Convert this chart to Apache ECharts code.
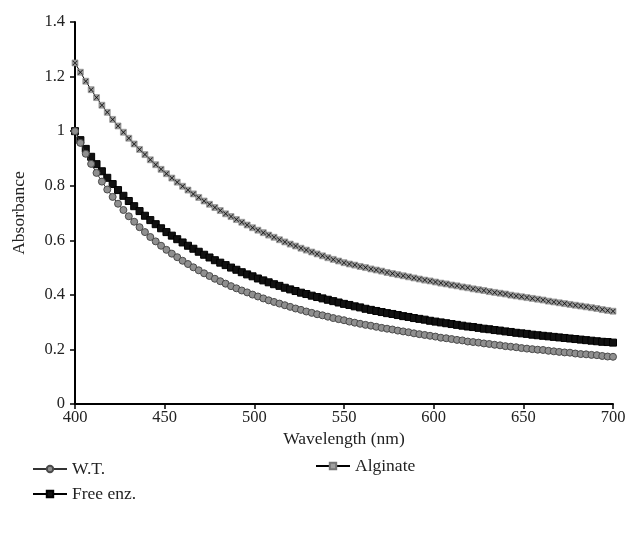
<!DOCTYPE html>
<html>
<head>
<meta charset="utf-8">
<script src="https://cdn.jsdelivr.net/npm/echarts@6/dist/echarts.min.js"></script>
<style>html,body{margin:0;padding:0;background:#fff}#c{width:630px;height:535px}</style>
</head>
<body>
<div id="c"></div>
<script>
const wavelengthStart = 400;
const wavelengthStep = 3;
const xTicks = [400, 450, 500, 550, 600, 650, 700];
const yTicks = [0, 0.2, 0.4, 0.6, 0.8, 1, 1.2, 1.4];
const seriesNames = ['W.T.', 'Free enz.', 'Alginate'];

const wt = [1.000,0.957,0.917,0.880,0.847,0.815,0.786,0.759,0.734,0.711,0.688,0.668,0.648,0.630,0.612,0.596,0.580,0.565,0.551,0.538,0.525,0.513,0.501,0.490,0.479,0.469,0.459,0.450,0.441,0.432,0.424,0.416,0.409,0.401,0.394,0.387,0.380,0.374,0.368,0.362,0.356,0.350,0.345,0.339,0.334,0.329,0.325,0.320,0.315,0.311,0.307,0.302,0.298,0.294,0.290,0.287,0.283,0.279,0.276,0.273,0.269,0.266,0.263,0.259,0.256,0.253,0.250,0.247,0.243,0.241,0.238,0.235,0.233,0.229,0.227,0.225,0.222,0.220,0.217,0.215,0.212,0.210,0.208,0.205,0.203,0.201,0.199,0.198,0.195,0.193,0.191,0.189,0.188,0.185,0.183,0.182,0.180,0.179,0.176,0.174,0.173];

const freeEnz = [1.000,0.967,0.935,0.906,0.879,0.853,0.829,0.806,0.784,0.763,0.744,0.725,0.707,0.690,0.674,0.659,0.644,0.630,0.617,0.604,0.592,0.580,0.569,0.558,0.547,0.537,0.527,0.518,0.509,0.500,0.492,0.483,0.475,0.468,0.460,0.453,0.446,0.439,0.433,0.426,0.420,0.414,0.408,0.403,0.397,0.392,0.387,0.382,0.377,0.372,0.367,0.363,0.358,0.354,0.349,0.345,0.341,0.337,0.333,0.330,0.326,0.322,0.319,0.315,0.312,0.309,0.305,0.302,0.299,0.296,0.293,0.290,0.287,0.284,0.282,0.279,0.276,0.274,0.271,0.269,0.266,0.264,0.261,0.259,0.257,0.254,0.252,0.250,0.248,0.246,0.244,0.242,0.240,0.238,0.236,0.234,0.232,0.230,0.228,0.227,0.225];

const alginate = [1.250,1.216,1.183,1.152,1.123,1.095,1.069,1.043,1.019,0.996,0.974,0.953,0.933,0.914,0.895,0.877,0.860,0.844,0.828,0.813,0.798,0.784,0.770,0.757,0.744,0.732,0.720,0.709,0.697,0.687,0.676,0.666,0.656,0.646,0.637,0.628,0.619,0.611,0.602,0.594,0.586,0.579,0.571,0.564,0.557,0.550,0.543,0.536,0.530,0.524,0.518,0.513,0.509,0.504,0.500,0.495,0.491,0.487,0.482,0.478,0.474,0.470,0.466,0.462,0.458,0.454,0.451,0.447,0.443,0.440,0.436,0.433,0.429,0.426,0.422,0.419,0.416,0.412,0.409,0.406,0.403,0.399,0.396,0.393,0.390,0.387,0.384,0.381,0.377,0.374,0.371,0.368,0.365,0.362,0.359,0.356,0.353,0.350,0.346,0.343,0.340];

function pairs(vals){ return vals.map((v,i)=>[wavelengthStart + i*wavelengthStep, v]); }

const font = "'Liberation Serif', 'DejaVu Serif', serif";
const xMark = 'path://M0,1L1,0L5,4L9,0L10,1L6,5L10,9L9,10L5,6L1,10L0,9L4,5Z';
const chart = echarts.init(document.getElementById('c'), null, {renderer:'canvas'});
chart.setOption({
  backgroundColor:'#fff',
  animation:false,
  textStyle:{fontFamily:font, color:'#222'},
  grid:{left:75, right:17, top:22, bottom:131, containLabel:false},
  xAxis:{
    type:'value', min:xTicks[0], max:xTicks[xTicks.length-1], interval:50,
    name:'Wavelength (nm)', nameLocation:'middle', nameGap:23,
    nameTextStyle:{fontFamily:font, fontSize:17.5, color:'#222'},
    axisLine:{lineStyle:{color:'#000', width:2}},
    axisTick:{show:true, inside:false, length:5, lineStyle:{color:'#000', width:1.5}},
    axisLabel:{fontFamily:font, fontSize:16.5, color:'#222', margin:5},
    splitLine:{show:false}
  },
  yAxis:{
    type:'value', min:yTicks[0], max:yTicks[yTicks.length-1], interval:0.2,
    name:'Absorbance', nameLocation:'middle', nameGap:47, nameRotate:90,
    nameTextStyle:{fontFamily:font, fontSize:17.5, color:'#222'},
    axisLine:{show:true, lineStyle:{color:'#000', width:2}},
    axisTick:{show:true, inside:false, length:5, lineStyle:{color:'#000', width:1.5}},
    axisLabel:{fontFamily:font, fontSize:16.5, color:'#222', margin:10},
    splitLine:{show:false}
  },
  legend:[
    {data:[seriesNames[0], seriesNames[1]], orient:'vertical', left:27, top:455, itemWidth:34, itemHeight:8, itemGap:7,
     textStyle:{fontFamily:font, fontSize:17.5, color:'#222'}},
    {data:[seriesNames[2]], orient:'vertical', left:310, top:452, itemWidth:34, itemHeight:8,
     textStyle:{fontFamily:font, fontSize:17.5, color:'#222'}}
  ],
  series:[
    {name:seriesNames[0], type:'line', data:pairs(wt), symbol:'circle', symbolSize:7, showAllSymbol:true,
     lineStyle:{color:'#333', width:1}, itemStyle:{color:'#8f8f8f', borderColor:'#4a4a4a', borderWidth:1}, z:3},
    {name:seriesNames[1], type:'line', data:pairs(freeEnz), symbol:'rect', symbolSize:7, showAllSymbol:true,
     lineStyle:{color:'#000', width:1}, itemStyle:{color:'#111', borderColor:'#000', borderWidth:1}, z:2},
    {name:seriesNames[2], type:'line', data:pairs(alginate), symbol:'rect', symbolSize:6, showAllSymbol:true,
     lineStyle:{color:'#000', width:1}, itemStyle:{color:'#a0a0a0', borderColor:'#777', borderWidth:0.5}, z:1},
    {name:seriesNames[2], type:'line', data:pairs(alginate), symbol:xMark, symbolSize:5, showAllSymbol:true,
     lineStyle:{width:0, opacity:0}, itemStyle:{color:'#111'}, z:1, silent:true}
  ]
});
</script>
</body>
</html>
